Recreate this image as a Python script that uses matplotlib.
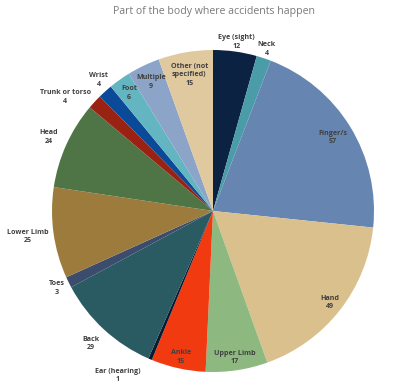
import numpy as np
import matplotlib.pyplot as plt

plt.rcParams["font.family"] = ["Open Sans", "DejaVu Sans"]

parts = ["Eye (sight)", "Neck", "Finger/s", "Hand", "Upper Limb", "Ankle",
         "Ear (hearing)", "Back", "Toes", "Lower Limb", "Head",
         "Trunk or torso", "Wrist", "Foot", "Multiple", "Other (not\nspecified)"]
counts = [12, 4, 57, 49, 17, 15, 1, 29, 3, 25, 24, 4, 4, 6, 9, 15]
colors = ["#0b2242", "#4a9ca8", "#6686b1", "#d9c08c", "#8db880", "#f23a10",
          "#0a1a30", "#2a5b63", "#3b4c6c", "#9c7b3c", "#4f7546",
          "#9a2212", "#0b4a98", "#62b5c1", "#8ca4c8", "#e0c99e"]
# label distance from the centre (1 = rim) and a small angular nudge (deg,
# clockwise) so the crowded outside labels don't collide
label_r = [1.06, 1.06, 0.87, 0.92, 0.92, 0.93, 1.18, 1.12, 1.08, 1.16,
           1.12, 1.16, 1.08, 0.90, 0.89, 0.86]
label_nudge = [0, 0, 0, 0, 0, 0, 7, 0, 0, 0, 0, -5, 1, 0, 0, 0]

fig = plt.figure(figsize=(4.0, 3.91), dpi=100)
ax = fig.add_axes([0, 0, 1, 1])

wedges, _ = ax.pie(counts, colors=colors, startangle=90, counterclock=False,
                   radius=1.0, wedgeprops=dict(linewidth=0))

ax.set_aspect("auto")
ax.set_xlim(-213 / 161, 187 / 161)
ax.set_ylim(-180 / 161, 211 / 161)
ax.axis("off")

for w, name, n, r, d in zip(wedges, parts, counts, label_r, label_nudge):
    ang = np.deg2rad((w.theta1 + w.theta2) / 2 - d)
    x, y = r * np.cos(ang), r * np.sin(ang)
    ax.text(x, y, f"{name}\n{n}", ha="center", va="center", fontsize=5.1,
            fontweight="bold", color="#404040", linespacing=1.3)

fig.text(0.535, 0.97, "Part of the body where accidents happen",
         ha="center", va="center", fontsize=7.6, color="#7a7a7a")

fig.savefig("out.png", dpi=100)
